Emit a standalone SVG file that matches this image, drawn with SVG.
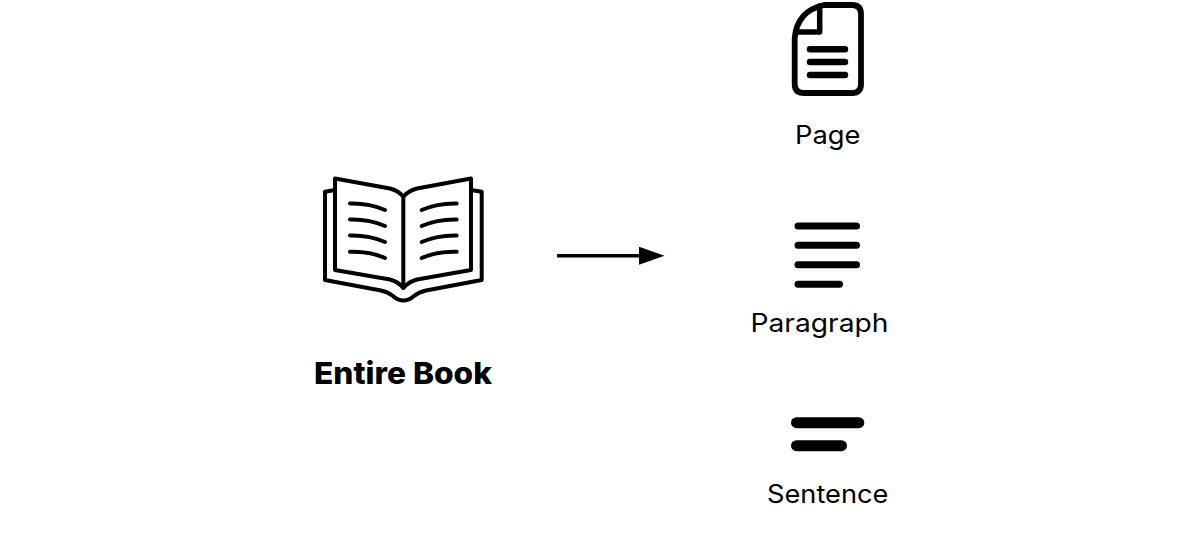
<svg xmlns="http://www.w3.org/2000/svg" width="1184" height="539" viewBox="0 0 1184 539">
<style>
.ln{fill:none;stroke:#000;stroke-linecap:round;stroke-linejoin:round}
.t{font-family:Inter,"Liberation Sans",sans-serif;font-size:25.500px;fill:#000}
.b{font-family:Inter,"Liberation Sans",sans-serif;font-size:30px;font-weight:800;fill:#000}
</style>
<defs>
<marker id="arrow" markerUnits="userSpaceOnUse" markerWidth="26" markerHeight="18" refX="0" refY="9" orient="auto"><path d="M0 0L25.500 9L0 18Z" fill="#000"/></marker>
</defs>
<rect width="1184" height="539" fill="#fff"/>
<g id="connectors">
<path d="M557 255.700H639" fill="none" stroke="#000" stroke-width="3.500" marker-end="url(#arrow)"/>
</g>
<g id="book">
<path class="ln" stroke-width="4" d="M335 178.500L390 188.500Q398 190.500 403.300 196.500Q409 190.500 417 188.500L471 178.500V270L417 279.500Q409 281.500 403.300 288Q398 281.500 390 279.500L335 270Z"/>
<path class="ln" stroke-width="4" d="M403.300 196.500V288"/>
<path class="ln" stroke-width="4" d="M335 190L325 191.700V280L381 290.500Q388 292 393 296Q398 300.500 403.300 300.500Q409 300.500 414 296Q419 292 426 290.500L481.700 280V191.700L471 190"/>
<path class="ln" stroke-width="4" d="M350 203.500Q369 203 385 210M350 219.500Q369 219 385 226M350 235.500Q369 235 385 242M350 251.700Q369 251 385 258M456.700 203.500Q438 203 421.700 210M456.700 219.500Q438 219 421.700 226M456.700 235.500Q438 235 421.700 242M456.700 251.700Q438 251 421.700 258"/>
<text class="b" x="403" y="384" text-anchor="middle" textLength="178" lengthAdjust="spacingAndGlyphs">Entire Book</text>
</g>
<g id="page">
<path class="ln" stroke-width="5.800" d="M824 5H852Q861 5 861 14V84Q861 93 852 93H804Q794.700 93 794.700 84V38Q797 11 824 5Z"/>
<path class="ln" stroke-width="5.500" d="M819.700 6V32H796"/>
<path class="ln" stroke-width="6.500" d="M810 49.300H845M810 62H845M810 75H845"/>
<text class="t" x="795" y="144" textLength="65.500" lengthAdjust="spacingAndGlyphs">Page</text>
</g>
<g id="paragraph">
<path class="ln" stroke-width="7" d="M798 226H856.500M798 245.300H856.500M798 264.700H856.500M798 284.300H839.500"/>
<text class="t" x="750.500" y="332" textLength="138" lengthAdjust="spacingAndGlyphs">Paragraph</text>
</g>
<g id="sentence">
<path class="ln" stroke-width="11" d="M796.500 422.700H858.800M796.500 445.700H841.500"/>
<text class="t" x="767" y="503" textLength="121.500" lengthAdjust="spacingAndGlyphs">Sentence</text>
</g>
</svg>
